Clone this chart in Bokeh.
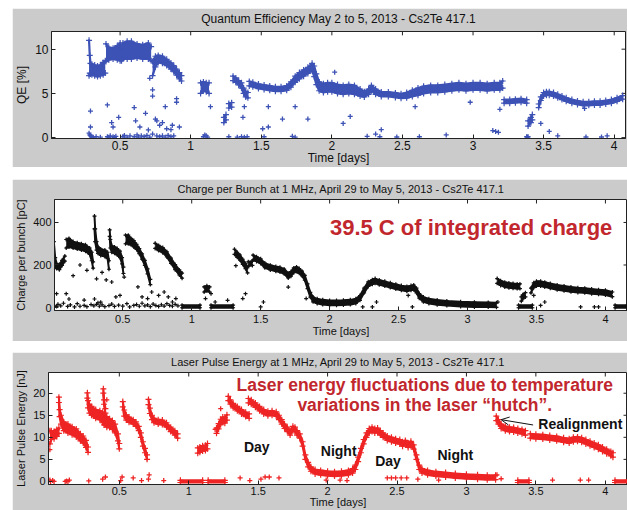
from bokeh.plotting import figure
from bokeh.layouts import column, row, Spacer
from bokeh.models import Range1d, FixedTicker, Label, Arrow, OpenHead
from bokeh.embed import file_html
from bokeh.resources import INLINE

FONT = "Liberation Sans"
GRAY = "#cbcbcb"
BLUE = "#3d52b5"
BLACK = "#111111"
RED = "#ee2424"
ANN_RED = "#c1272d"

x_ticks = [0.5, 1, 1.5, 2, 2.5, 3, 3.5, 4]

# ---------------- Panel 1: Quantum efficiency [%] ----------------
qe_days = [
    [0.280, 0.285, 0.29, 0.30, 0.32, 0.34, 0.36, 0.38, 0.395],
    [0.40, 0.42, 0.45, 0.48, 0.50, 0.51, 0.52, 0.55, 0.58, 0.62, 0.66, 0.70, 0.72],
    [0.73, 0.75, 0.77, 0.80, 0.83, 0.86, 0.88, 0.90, 0.92, 0.935],
    [1.07, 1.09, 1.11, 1.13],
    [1.235, 1.25],
    [1.27, 1.29],
    [1.30, 1.32, 1.34, 1.36, 1.375, 1.39, 1.405],
    [1.415, 1.44, 1.48, 1.52, 1.56, 1.60, 1.64, 1.68, 1.71, 1.74, 1.77, 1.80, 1.83, 1.86,
     1.875, 1.89, 1.91, 1.94, 1.97, 2.00, 2.04, 2.08, 2.12, 2.16, 2.20, 2.23, 2.26, 2.28,
     2.31, 2.35, 2.40, 2.45, 2.49, 2.53, 2.57, 2.61, 2.65, 2.70, 2.75, 2.80, 2.85, 2.90,
     2.95, 3.00, 3.05, 3.10, 3.15, 3.19, 3.21],
    [3.22, 3.26, 3.30, 3.34, 3.38],
    [3.39, 3.41, 3.42],
    [3.465, 3.48, 3.50, 3.52, 3.54, 3.57, 3.60, 3.63, 3.66, 3.70, 3.74, 3.78, 3.82, 3.86,
     3.90, 3.94, 3.98, 4.02, 4.06],
]
qe_mid = [
    [9.0, 8.3, 7.8, 7.7, 7.6, 7.5, 7.6, 7.8, 8.0],
    [9.6, 9.5, 9.5, 9.6, 9.7, 9.3, 9.8, 9.9, 9.9, 9.8, 9.7, 9.8, 9.5],
    [7.8, 8.6, 8.9, 8.8, 8.5, 8.1, 7.8, 7.4, 7.0, 6.7],
    [5.6, 5.8, 5.7, 5.6],
    [2.0, 2.3],
    [3.6, 3.7],
    [6.7, 6.5, 6.2, 5.9, 5.3, 4.9, 4.8],
    [6.1, 6.0, 5.8, 5.7, 5.6, 5.5, 5.5, 5.6, 6.0, 6.6, 7.0, 7.3, 7.6, 8.0,
     7.5, 6.6, 5.8, 5.6, 5.7, 5.7, 5.5, 5.4, 5.5, 5.4, 5.1, 4.9, 5.2, 5.6,
     5.2, 4.9, 4.9, 4.8, 4.7, 4.8, 5.0, 5.2, 5.4, 5.5, 5.5, 5.6, 5.7, 5.8,
     5.7, 5.8, 5.8, 5.7, 5.8, 5.8, 6.0],
    [4.1, 4.1, 4.15, 4.2, 4.1],
    [1.6, 2.0, 2.3],
    [3.6, 4.4, 4.9, 5.0, 5.0, 4.9, 4.7, 4.5, 4.3, 4.1, 3.95, 3.85, 3.85, 3.9,
     3.9, 4.0, 4.1, 4.3, 4.55],
]
qe_spread = [
    [2.0, 1.0, 0.6, 0.6, 0.6, 0.6, 0.6, 0.7, 0.7],
    [1.0, 0.7, 0.6, 0.8, 1.0, 0.6, 0.9, 1.0, 1.0, 0.8, 0.8, 0.9, 0.8],
    [0.8, 0.6, 0.4, 0.4, 0.35, 0.35, 0.35, 0.35, 0.35, 0.3],
    [0.6, 0.5, 0.5, 0.6],
    [0.3, 0.3],
    [0.25, 0.25],
    [0.25, 0.25, 0.25, 0.3, 0.3, 0.3, 0.3],
    [0.25, 0.25, 0.25, 0.25, 0.25, 0.25, 0.25, 0.25, 0.3, 0.35, 0.35, 0.35, 0.35, 0.4,
     0.6, 0.6, 0.5, 0.5, 0.5, 0.5, 0.5, 0.5, 0.5, 0.5, 0.4, 0.3, 0.3, 0.3,
     0.3, 0.25, 0.25, 0.25, 0.25, 0.3, 0.35, 0.4, 0.4, 0.4, 0.4, 0.4, 0.4, 0.4,
     0.4, 0.4, 0.4, 0.4, 0.4, 0.4, 0.4],
    [0.2, 0.2, 0.2, 0.2, 0.2],
    [0.3, 0.3, 0.3],
    [0.2, 0.2, 0.2, 0.2, 0.2, 0.2, 0.2, 0.2, 0.2, 0.2, 0.2, 0.2, 0.2, 0.2,
     0.2, 0.2, 0.2, 0.2, 0.2],
]
qe_pts_x = [0.28, 0.285, 0.29, 0.30, 0.31, 0.33, 0.36, 0.41, 0.42, 0.43, 0.45, 0.46, 0.47,
            0.52, 0.53, 0.55, 0.57, 0.60, 0.62, 0.63, 0.65, 0.67, 0.69, 0.71, 0.73, 0.76,
            0.78, 0.80, 0.82, 0.84, 0.86, 0.88, 1.09, 1.10, 1.11, 1.12, 1.27, 1.33, 1.36,
            1.38, 1.40, 1.52, 1.72, 1.74, 2.25, 2.31, 2.34, 2.46, 2.62, 2.81, 3.38, 3.385,
            3.39, 3.60, 3.80, 3.91, 3.95,
            0.29, 0.29, 0.41, 0.44, 0.45, 0.49, 0.60, 0.61, 0.64, 0.68, 0.70, 0.71, 0.73,
            0.73, 0.75, 0.76, 0.78, 0.80, 0.82, 0.83, 0.86, 0.87, 0.90, 0.90, 0.92,
            1.14, 1.37, 1.38, 1.51, 1.55, 1.55, 1.65, 1.74, 1.83, 2.02, 2.08, 2.13,
            2.35, 2.59, 2.98, 3.14, 3.16, 3.18, 3.19, 3.48, 3.54, 3.79]
qe_pts_y = [0.5, 0.3, 0.2, 0.1, 0.05, 0.1, 0.05, 0.1, 0.05, 0.2, 0.1, 0.0, 0.15,
            0.1, 0.25, 0.05, 0.2, 0.1, 0.3, 0.05, 0.2, 0.1, 0.25, 0.05, 0.4, 0.2,
            0.1, 0.2, 0.05, 0.25, 0.1, 0.2, 0.1, 0.3, 0.2, 0.05, 0.1, 0.05, 0.1,
            0.05, 0.1, 0.1, 0.15, 0.05, 0.15, 0.4, 0.1, 0.07, 0.1, 0.3, 0.1, 0.05,
            0.1, 0.2, 0.07, 0.07, 0.2,
            3.0, 1.2, 3.7, 1.7, 1.2, 2.3, 3.4, 1.9, 1.2, 2.75, 0.87, 6.7, 5.4,
            4.7, 2.1, 1.9, 1.4, 1.7, 3.5, 1.0, 0.9, 1.4, 4.4, 4.0, 1.2,
            3.5, 2.3, 3.5, 1.0, 1.2, 3.5, 2.1, 3.5, 2.1, 7.4, 1.6, 2.4,
            0.9, 3.5, 4.0, 0.8, 0.7, 0.6, 3.2, 1.6, 0.7, 3.3]

# ---------------- Panel 2: Charge per bunch [pC] ----------------
q_days = [
    [0.0, 0.01, 0.02, 0.04, 0.06, 0.08],
    [0.09, 0.11, 0.14, 0.17, 0.20, 0.23, 0.26, 0.275, 0.285],
    [0.295, 0.30, 0.31, 0.32, 0.34, 0.37, 0.39, 0.40],
    [0.405, 0.41, 0.42, 0.44, 0.46, 0.48, 0.495, 0.505],
    [0.52, 0.54, 0.56, 0.58, 0.60, 0.62, 0.64, 0.66, 0.68, 0.70],
    [0.735, 0.76, 0.79, 0.82, 0.85, 0.88, 0.91, 0.93],
    [0.93, 1.06], [1.14, 1.30],
    [1.09, 1.11, 1.13],
    [1.31, 1.33, 1.35, 1.37, 1.39, 1.405],
    [1.41, 1.44],
    [1.445, 1.47, 1.50, 1.53, 1.57, 1.61, 1.64, 1.67, 1.70, 1.72, 1.74, 1.76, 1.78, 1.80,
     1.82, 1.84, 1.86, 1.88, 1.91, 1.95, 2.0, 2.05, 2.10, 2.15, 2.19, 2.22, 2.25, 2.28,
     2.31, 2.33, 2.36, 2.40, 2.44, 2.48, 2.52, 2.56, 2.59, 2.61, 2.63, 2.65, 2.68, 2.72,
     2.78, 2.85, 2.95, 3.05, 3.15, 3.21],
    [3.215, 3.24, 3.27, 3.30, 3.33, 3.36, 3.38],
    [3.39, 3.40, 3.42],
    [3.37, 3.47],
    [3.46, 3.48, 3.50, 3.53, 3.56, 3.60, 3.65, 3.70, 3.75, 3.80, 3.85, 3.90, 3.95, 4.00, 4.05],
    [4.07, 4.16],
]
q_mid = [
    [260, 215, 195, 190, 210, 230],
    [300, 305, 295, 290, 285, 280, 265, 240, 200],
    [400, 340, 290, 270, 260, 255, 245, 200],
    [350, 300, 275, 270, 262, 250, 220, 175],
    [320, 320, 310, 300, 285, 265, 240, 210, 170, 120],
    [290, 280, 270, 250, 220, 190, 165, 150],
    [5, 5], [5, 5],
    [85, 90, 85],
    [262, 248, 235, 215, 195, 175],
    [205, 208],
    [235, 228, 218, 198, 188, 182, 178, 170, 150, 158, 175, 180, 172, 160,
     140, 100, 60, 38, 30, 25, 22, 22, 23, 25, 30, 45, 80, 110,
     120, 125, 118, 112, 105, 98, 92, 88, 92, 95, 80, 55, 38, 30,
     24, 20, 16, 14, 13, 12],
    [125, 115, 108, 104, 102, 100, 100],
    [40, 50, 60],
    [5, 5],
    [80, 105, 112, 112, 108, 102, 95, 90, 85, 82, 80, 76, 73, 70, 62],
    [5, 5],
]
q_spread = [
    [50, 20, 12, 12, 12, 12],
    [20, 20, 15, 15, 15, 15, 15, 20, 15],
    [30, 30, 20, 15, 15, 15, 15, 20],
    [15, 20, 15, 15, 15, 15, 15, 15],
    [20, 20, 15, 15, 12, 12, 12, 12, 12, 12],
    [12, 12, 12, 12, 12, 12, 12, 12],
    [6, 6], [6, 6],
    [12, 12, 12],
    [12, 12, 12, 12, 12, 12],
    [10, 10],
    [11] * 48,
    [11, 11, 11, 11, 11, 11, 11],
    [10, 10, 10],
    [6, 6],
    [11] * 15,
    [6, 6],
]
q_pts_x = [0.00, 0.02, 0.03, 0.05, 0.07, 0.10, 0.12, 0.15, 0.17, 0.19, 0.22, 0.24, 0.27,
           0.29, 0.31, 0.32, 0.33, 0.35, 0.37, 0.40, 0.42, 0.44, 0.47, 0.50, 0.53, 0.55,
           0.58, 0.60, 0.62, 0.64, 0.66, 0.68, 0.70, 0.72, 0.74, 0.76, 0.78, 0.80, 0.82,
           0.84, 0.86, 0.88, 0.90,
           0.02, 0.09, 0.11, 0.14, 0.19, 0.22, 0.24, 0.295, 0.31, 0.34, 0.35, 0.38, 0.42,
           0.45, 0.48, 0.51, 0.61, 0.64, 0.68, 0.71, 0.76, 0.80, 0.83, 0.86, 0.885,
           1.10, 1.14, 1.17, 1.26, 1.32, 1.37, 1.39, 1.50, 1.52, 1.70, 1.83, 2.24, 2.31,
           2.34, 2.57, 2.60, 3.22, 3.48, 3.53, 3.56, 3.82, 3.92, 3.95]
q_pts_y = [10, 5, 15, 8, 20, 5, 12, 3, 18, 6, 10, 4, 14,
           8, 15, 22, 6, 12, 4, 9, 16, 5, 11, 7, 18, 3,
           10, 14, 6, 20, 8, 12, 4, 16, 9, 5, 13, 7, 18,
           10, 6, 15, 8,
           65, 65, 40, 150, 200, 35, 175, 40, 135, 25, 165, 130, 120,
           50, 57, 143, 97, 50, 42, 73, 57, 73, 50, 26, 42,
           42, 65, 26, 34, 197, 42, 65, 3, 26, 96, 42, 3, 3,
           26, 57, 3, 26, 57, 10, 26, 3, 3, 3]

# ---------------- Panel 3: Laser pulse energy [nJ] ----------------
e_days = [
    [0.0, 0.01, 0.03, 0.05, 0.065],
    [0.065, 0.07, 0.08, 0.10, 0.13, 0.16, 0.19, 0.22, 0.24, 0.26, 0.275],
    [0.27, 0.275, 0.285, 0.30, 0.33, 0.36, 0.38, 0.39, 0.41, 0.43, 0.45, 0.47, 0.49, 0.50],
    [0.385, 0.39, 0.40],
    [0.525, 0.535, 0.55, 0.57, 0.60, 0.62, 0.64, 0.655, 0.67, 0.685, 0.70],
    [0.71, 0.72, 0.735, 0.75, 0.78, 0.81, 0.84, 0.87, 0.90, 0.92],
    [0.94, 1.10], [1.14, 1.26],
    [1.065, 1.08, 1.10, 1.12, 1.135],
    [1.20, 1.215, 1.23, 1.245, 1.26, 1.275],
    [1.285, 1.30, 1.32, 1.35, 1.38, 1.41, 1.435],
    [1.43, 1.45, 1.48, 1.51, 1.54, 1.57, 1.60, 1.63, 1.65, 1.67, 1.69, 1.71, 1.73, 1.75,
     1.765, 1.78, 1.80, 1.82, 1.84, 1.86, 1.88, 1.91, 1.95, 2.0, 2.05, 2.10, 2.15, 2.18,
     2.20, 2.22, 2.24, 2.26, 2.28, 2.30, 2.32, 2.34, 2.36, 2.38, 2.40, 2.43, 2.46, 2.49,
     2.52, 2.54, 2.56, 2.58, 2.60, 2.62, 2.64, 2.66, 2.68, 2.72, 2.78, 2.85, 2.92, 3.00,
     3.08, 3.15, 3.21],
    [3.215, 3.23, 3.25, 3.28, 3.31, 3.34, 3.37, 3.40, 3.425],
    [3.37, 3.45], [4.07, 4.16],
    [3.46, 3.50, 3.55, 3.60, 3.65, 3.70, 3.74, 3.77, 3.80, 3.83, 3.86, 3.89, 3.92, 3.95,
     3.98, 4.01, 4.04, 4.055],
]
e_mid = [
    [10, 10.5, 10.5, 11, 11.5],
    [18.5, 15.5, 14, 12.5, 12, 11.5, 11, 10, 9.5, 8.5, 7.2],
    [19.5, 17.5, 16.5, 16, 15.3, 15, 14.5, 14, 13.5, 13.2, 12.8, 12, 10, 8],
    [20.5, 18, 16],
    [17.5, 15.5, 14.5, 14, 13.5, 13, 12, 10.5, 8.5, 7, 5.5],
    [18, 16, 14.5, 13.8, 13.5, 13.4, 12.8, 11.8, 11, 10.3],
    [0, 0], [0, 0],
    [7.0, 7.2, 7.5, 7.6, 8.0],
    [11.5, 12.5, 13.5, 14, 13.8, 14.5],
    [18.8, 18, 17.2, 16.5, 15.8, 15.2, 14.8],
    [18.3, 18, 17.3, 16.5, 15.8, 15.4, 15.5, 15.3, 14.5, 13.5, 12.5, 11.8, 11, 12,
     11.8, 11, 10.3, 8.5, 5.5, 3.8, 2.8, 2.2, 2.0, 1.8, 1.7, 1.8, 2.0, 2.4,
     3.2, 5, 7, 9, 10.5, 11.5, 11.8, 11.5, 11.6, 11.0, 10.5, 9.8, 9.5, 9.2,
     9.0, 8.5, 8.8, 8.2, 8.6, 7.8, 5.5, 3.2, 2.4, 2.0, 1.7, 1.5, 1.3, 1.1,
     1.0, 0.9, 0.9],
    [14.3, 13.5, 12.5, 12.0, 11.8, 11.7, 11.5, 11.3, 11.0],
    [0, 0], [0, 0],
    [10.3, 10.2, 10.1, 9.9, 9.7, 9.4, 9.2, 9.5, 9.6, 9.4, 9.0, 8.6, 8.2, 7.8,
     7.3, 6.8, 6.3, 6.0],
]
e_spread = [
    [1.5, 1.0, 0.8, 0.8, 0.6],
    [0.6, 0.8, 1.0, 1.0, 1.0, 0.9, 0.9, 0.8, 0.8, 0.8, 0.6],
    [0.6, 0.8, 1.0, 1.0, 1.0, 1.0, 1.2, 1.2, 1.2, 1.0, 1.0, 1.0, 0.8, 0.6],
    [0.5, 0.5, 0.5],
    [0.6, 0.7, 0.6, 0.6, 0.5, 0.5, 0.5, 0.5, 0.5, 0.5, 0.5],
    [0.6, 0.6, 0.5, 0.5, 0.5, 0.5, 0.5, 0.5, 0.5, 0.5],
    [0.25, 0.25], [0.25, 0.25],
    [0.6, 0.6, 0.6, 0.6, 0.6],
    [0.6, 0.6, 0.6, 0.6, 0.6, 0.6],
    [0.5] * 7,
    [0.5] * 59,
    [0.5] * 9,
    [0.25, 0.25], [0.25, 0.25],
    [0.5] * 18,
]
e_pts_x = [0.0, 0.0, 0.02, 0.12, 0.14, 0.28, 0.38, 0.40, 0.41, 0.51, 0.52, 0.60, 0.66,
           0.71, 0.715, 0.82, 1.19, 1.23, 1.37, 1.44, 1.52, 1.55, 1.58, 1.65, 1.99,
           2.09, 2.14, 2.43, 2.46, 2.49, 2.53, 2.57, 2.65, 2.80, 3.22, 3.25, 3.62,
           3.82, 3.88, 0.005, 0.03, 0.11, 0.13]
e_pts_y = [7.2, 0.3, 0.2, 0.1, 0.3, 0.1, 0.5, 1.0, 18.5, 0.2, 1.0, 0.8, 0.2,
           0.5, 1.5, 0.2, 11.8, 16.5, 0.8, 0.2, 0.5, 1.0, 1.0, 0.8, 0.3,
           0.3, 0.2, 0.8, 0.8, 0.8, 0.8, 0.8, 0.5, 0.3, 1.5, 0.6, 0.3,
           0.3, 0.3, 0.0, 0.0, 0.0, 0.0]

FIG_W = 615
TICK_PX = 4


def panel(title, ylabel, xr, yr, yticks, height, left, right, top, bottom, fs,
          title_so, xlab_so, xax_so):
    p = figure(width=FIG_W, height=height, x_range=Range1d(*xr), y_range=Range1d(*yr),
               output_backend="svg", toolbar_location=None,
               min_border_left=left, min_border_right=right,
               min_border_top=top, min_border_bottom=bottom)
    p.background_fill_color = "white"
    p.border_fill_color = GRAY
    p.outline_line_color = "#222222"
    p.outline_line_width = 1
    p.grid.visible = False
    p.title.text = title
    p.title.align = "center"
    p.title.vertical_align = "top"
    p.title.text_font = FONT
    p.title.text_font_style = "normal"
    p.title.text_font_size = fs
    p.title.text_color = "#111111"
    p.title.standoff = title_so
    xa, ya = p.xaxis[0], p.yaxis[0]
    xa.ticker = FixedTicker(ticks=x_ticks)
    xa.major_label_overrides = {t: f"{t:g}" for t in x_ticks}
    ya.ticker = FixedTicker(ticks=yticks)
    xa.axis_label = "Time [days]"
    ya.axis_label = ylabel
    for ax in (xa, ya):
        ax.major_tick_in = TICK_PX
        ax.major_tick_out = 0
        ax.minor_tick_line_color = None
        ax.axis_line_color = "#222222"
        ax.major_tick_line_color = "#222222"
        ax.major_label_text_font = FONT
        ax.major_label_text_font_size = fs
        ax.major_label_text_color = "#111111"
        ax.axis_label_text_font = FONT
        ax.axis_label_text_font_size = fs
        ax.axis_label_text_font_style = "normal"
        ax.axis_label_text_color = "#111111"
    xa.major_label_standoff = xlab_so
    xa.axis_label_standoff = xax_so
    ya.major_label_standoff = 3
    ya.axis_label_standoff = 3
    # inner tick marks on the top and right edges of the box
    fw = FIG_W - left - right
    fh = height - top - bottom
    dy = TICK_PX * (yr[1] - yr[0]) / fh
    dx = TICK_PX * (xr[1] - xr[0]) / fw
    p.segment(x0=x_ticks, y0=[yr[1]] * len(x_ticks), x1=x_ticks, y1=[yr[1] - dy] * len(x_ticks),
              line_color="#222222", line_width=1)
    p.segment(x0=[xr[1]] * len(yticks), y0=yticks, x1=[xr[1] - dx] * len(yticks), y1=yticks,
              line_color="#222222", line_width=1)
    return p


def bands(p, days, mids, spreads, color, lw, msize):
    for xs, ms, ss in zip(days, mids, spreads):
        lo = [m - s for m, s in zip(ms, ss)]
        hi = [m + s for m, s in zip(ms, ss)]
        p.varea(x=xs, y1=lo, y2=hi, fill_color=color)
        p.line(xs, lo, line_color=color, line_width=lw, line_join="round", line_cap="round")
        p.line(xs, hi, line_color=color, line_width=lw, line_join="round", line_cap="round")
        p.scatter(xs, lo, marker="cross", size=msize, line_color=color, line_width=1.2)
        p.scatter(xs, hi, marker="cross", size=msize, line_color=color, line_width=1.2)


p1 = panel("Quantum Efficiency May 2 to 5, 2013 - Cs2Te 417.1", "QE [%]",
           (0.014, 4.08), (-0.1, 12.0), [0, 5, 10], 159, 36, 2, 20, 28, "12px", 7, 2, -2)
bands(p1, qe_days, qe_mid, qe_spread, BLUE, 2.2, 6)
p1.scatter(qe_pts_x, qe_pts_y, marker="cross", size=5, line_color=BLUE, line_width=1.3)

p2 = panel("Charge per Bunch at 1 MHz, April 29 to May 5, 2013 - Cs2Te 417.1",
           "Charge per bunch [pC]", (0.005, 4.16), (-14, 508), [0, 200, 400],
           162, 38, 0, 20, 31, "11px", 6, 4, -1)
bands(p2, q_days, q_mid, q_spread, BLACK, 2.0, 4)
p2.scatter(q_pts_x, q_pts_y, marker="cross", size=4, line_color=BLACK, line_width=1.2)
p2.add_layout(Label(x=4.05, y=375, text="39.5 C of integrated charge", text_align="right",
                    text_baseline="middle", text_font=FONT, text_font_style="bold",
                    text_font_size="22px", text_color=ANN_RED))

p3 = panel("Laser Pulse Energy at 1 MHz, April 29 to May 5, 2013 - Cs2Te 417.1",
           "Laser Pulse Energy [nJ]", (-0.01, 4.16), (-0.7, 24.7), [0, 5, 10, 15, 20],
           158, 34, 0, 20, 26, "11px", 6, 2, -2)
bands(p3, e_days, e_mid, e_spread, RED, 2.2, 6)
p3.scatter(e_pts_x, e_pts_y, marker="cross", size=5, line_color=RED, line_width=1.3)
for txt, yy in (("Laser energy fluctuations due to temperature", 21.85),
                ("variations in the laser \u201chutch\u201d.", 17.4)):
    p3.add_layout(Label(x=2.70, y=yy, text=txt, text_align="center", text_baseline="middle",
                        text_font=FONT, text_font_style="bold", text_font_size="17.5px",
                        text_color=ANN_RED))
for txt, xx, yy in (("Day", 1.49, 7.7), ("Night", 2.08, 6.8), ("Day", 2.435, 4.6),
                    ("Night", 2.92, 6.1), ("Realignment", 3.82, 13.1)):
    p3.add_layout(Label(x=xx, y=yy, text=txt, text_align="center", text_baseline="middle",
                        text_font=FONT, text_font_style="bold", text_font_size="14px",
                        text_color="#111111"))
p3.add_layout(Arrow(end=OpenHead(size=8, line_width=1, line_color="#111111"),
                    x_start=3.48, y_start=12.8, x_end=3.25, y_end=14.0,
                    line_width=1, line_color="#111111"))

layout = column(
    Spacer(height=8),
    row(Spacer(width=12), p1),
    Spacer(height=12),
    row(Spacer(width=12), p2),
    Spacer(height=11),
    row(Spacer(width=12), p3),
)

open("out.html", "w").write(file_html(layout, INLINE))
